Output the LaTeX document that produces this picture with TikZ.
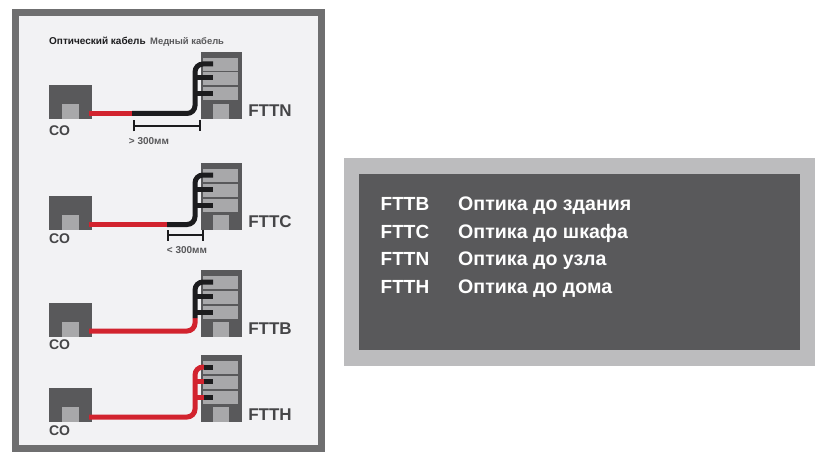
\documentclass[tikz,border=0pt]{standalone}
\usepackage{fontspec}
\setmainfont{Liberation Sans}
\usetikzlibrary{arrows.meta}
\definecolor{framegray}{HTML}{6F6F70}
\definecolor{papergray}{HTML}{F2F2F4}
\definecolor{darkgray}{HTML}{59595B}
\definecolor{midgray}{HTML}{A8A8AA}
\definecolor{panelgray}{HTML}{BCBCBE}
\definecolor{labelgray}{HTML}{454547}
\definecolor{cablered}{HTML}{D2232E}
\definecolor{cableblack}{HTML}{1C1C1E}
\tikzset{
    box/.style={anchor=north west, inner sep=0pt, outer sep=0pt, fill=#1},
    office/.style={box=darkgray, minimum width=43pt, minimum height=34pt},
    tower/.style={box=darkgray, minimum width=41pt, minimum height=67pt},
    win/.style={box=midgray, minimum width=35pt, minimum height=13pt},
    door/.style={box=midgray, minimum width=17pt, minimum height=15pt},
    redline/.style={draw=cablered, line width=5pt},
    blackline/.style={draw=cableblack, line width=5pt},
    riser/.style={rounded corners=8pt},
    dimbar/.style={draw=cableblack, line width=1.6pt, {Bar[width=11pt]}-{Bar[width=11pt]}},
    colabel/.style={font=\bfseries\fontsize{14}{14}\selectfont, text=labelgray, inner sep=0pt},
    ftlabel/.style={font=\bfseries\fontsize{17}{17}\selectfont, text=labelgray, inner sep=0pt},
    dimlabel/.style={font=\bfseries\fontsize{10}{10}\selectfont, text=darkgray, inner sep=0pt},
    abbrtext/.style={anchor=base, font=\bfseries\fontsize{19}{19}\selectfont, text=white, inner sep=0pt},
    paneltext/.style={anchor=base west, font=\bfseries\fontsize{19.6}{19.6}\selectfont, text=white, inner sep=0pt}
}
\begin{document}
\begin{tikzpicture}[x=1pt, y=-1pt]
    \useasboundingbox (0, 0) rectangle (840, 468);

    % left sheet
    \node[box=framegray, minimum width=313pt, minimum height=443pt] (frame) at (12, 9) {};
    \node[box=papergray, minimum width=299pt, minimum height=429pt] (sheet) at (19, 16) {};
    \node[anchor=west, inner sep=0pt, font=\bfseries\fontsize{10}{10}\selectfont, text=cableblack] (optic) at (49, 41) {Оптический кабель};
    \node[anchor=west, inner sep=0pt, font=\bfseries\fontsize{9.4}{10}\selectfont, text=darkgray] (copper) at (150, 42) {Медный кабель};

    % FTTN
    \node[office] (coA) at (49, 85) {};
    \node[door] (coAdoor) at (62, 104) {};
    \node[tower] (twA) at (201, 52) {};
    \node[win] (twAa) at (203, 58) {};
    \node[win] (twAb) at (203, 72.5) {};
    \node[win] (twAc) at (203, 87.5) {};
    \node[door, minimum width=16pt] (twAdoor) at (213, 104) {};
    \coordinate (outA) at (89, 113.5);
    \coordinate (spliceA) at (132, 113.5);
    \coordinate (bendA) at (195, 64);
    \coordinate (endAa) at (213, 64);
    \coordinate (endAb) at (213, 78);
    \coordinate (endAc) at (213, 94);
    \draw[redline] (outA) -- (spliceA);
    \draw[blackline, riser] (spliceA) -| (bendA) -- (endAa);
    \draw[blackline] (bendA |- endAb) -- (endAb);
    \draw[blackline] (bendA |- endAc) -- (endAc);
    \node[colabel] (coAlabel) at (59.5, 131) {CO};
    \node[ftlabel] (twAlabel) at (270, 111) {FTTN};
    \coordinate (dimAa) at (133, 126);
    \coordinate (dimAb) at (201, 126);
    \draw[dimbar] (dimAa) -- (dimAb);
    \node[dimlabel] (dimAlabel) at (149, 141) {> 300мм};

    % FTTC
    \node[office] (coB) at (49, 196) {};
    \node[door] (coBdoor) at (62, 215) {};
    \node[tower] (twB) at (201, 163) {};
    \node[win] (twBa) at (203, 169) {};
    \node[win] (twBb) at (203, 183.5) {};
    \node[win] (twBc) at (203, 198.5) {};
    \node[door, minimum width=16pt] (twBdoor) at (213, 215) {};
    \coordinate (outB) at (89, 224.5);
    \coordinate (spliceB) at (167, 224.5);
    \coordinate (bendB) at (195, 175);
    \coordinate (endBa) at (213, 175);
    \coordinate (endBb) at (213, 189);
    \coordinate (endBc) at (213, 205);
    \draw[redline] (outB) -- (spliceB);
    \draw[blackline, riser] (spliceB) -| (bendB) -- (endBa);
    \draw[blackline] (bendB |- endBb) -- (endBb);
    \draw[blackline] (bendB |- endBc) -- (endBc);
    \node[colabel] (coBlabel) at (59.5, 239) {CO};
    \node[ftlabel] (twBlabel) at (270, 222) {FTTC};
    \coordinate (dimBa) at (167, 235);
    \coordinate (dimBb) at (204, 235);
    \draw[dimbar] (dimBa) -- (dimBb);
    \node[dimlabel] (dimBlabel) at (187, 250) {< 300мм};

    % FTTB
    \node[office] (coC) at (49, 303) {};
    \node[door] (coCdoor) at (62, 322) {};
    \node[tower] (twC) at (201, 270) {};
    \node[win] (twCa) at (203, 276) {};
    \node[win] (twCb) at (203, 290.5) {};
    \node[win] (twCc) at (203, 305.5) {};
    \node[door, minimum width=16pt] (twCdoor) at (213, 322) {};
    \coordinate (outC) at (89, 331);
    \coordinate (spliceC) at (195, 318);
    \coordinate (bendC) at (195, 282);
    \coordinate (endCa) at (213, 282);
    \coordinate (endCb) at (213, 296);
    \coordinate (endCc) at (213, 312);
    \draw[redline, riser] (outC) -| (spliceC);
    \draw[blackline, riser] (spliceC) -- (bendC) -- (endCa);
    \draw[blackline] (bendC |- endCb) -- (endCb);
    \draw[blackline] (bendC |- endCc) -- (endCc);
    \node[colabel] (coClabel) at (59.5, 345) {CO};
    \node[ftlabel] (twClabel) at (270, 329) {FTTB};

    % FTTH
    \node[office] (coD) at (49, 388) {};
    \node[door] (coDdoor) at (62, 407) {};
    \node[tower] (twD) at (201, 355) {};
    \node[win] (twDa) at (203, 361) {};
    \node[win] (twDb) at (203, 375.5) {};
    \node[win] (twDc) at (203, 390.5) {};
    \node[door, minimum width=16pt] (twDdoor) at (213, 407) {};
    \coordinate (outD) at (89, 417);
    \coordinate (bendD) at (195, 367);
    \coordinate (midDa) at (204, 367);
    \coordinate (midDb) at (204, 381);
    \coordinate (midDc) at (204, 397);
    \coordinate (endDa) at (213, 367);
    \coordinate (endDb) at (213, 381);
    \coordinate (endDc) at (213, 397);
    \draw[redline, riser] (outD) -| (bendD) -- (midDa);
    \draw[redline] (bendD |- midDb) -- (midDb);
    \draw[redline] (bendD |- midDc) -- (midDc);
    \draw[blackline] (midDa) -- (endDa);
    \draw[blackline] (midDb) -- (endDb);
    \draw[blackline] (midDc) -- (endDc);
    \node[colabel] (coDlabel) at (59.5, 431) {CO};
    \node[ftlabel] (twDlabel) at (270, 415) {FTTH};

    % right panel
    \node[box=panelgray, minimum width=471pt, minimum height=208pt] (panel) at (344, 158) {};
    \node[box=darkgray, minimum width=441pt, minimum height=176pt] (panelin) at (359, 174) {};
    \node[abbrtext] (abbrA) at (405, 210) {FTTB};
    \node[abbrtext] (abbrB) at (405, 238) {FTTC};
    \node[abbrtext] (abbrC) at (405, 265.5) {FTTN};
    \node[abbrtext] (abbrD) at (405, 293) {FTTH};
    \node[paneltext] (textA) at (458, 210) {Оптика до здания};
    \node[paneltext] (textB) at (458, 238) {Оптика до шкафа};
    \node[paneltext] (textC) at (458, 265.5) {Оптика до узла};
    \node[paneltext] (textD) at (458, 293) {Оптика до дома};
\end{tikzpicture}
\end{document}
